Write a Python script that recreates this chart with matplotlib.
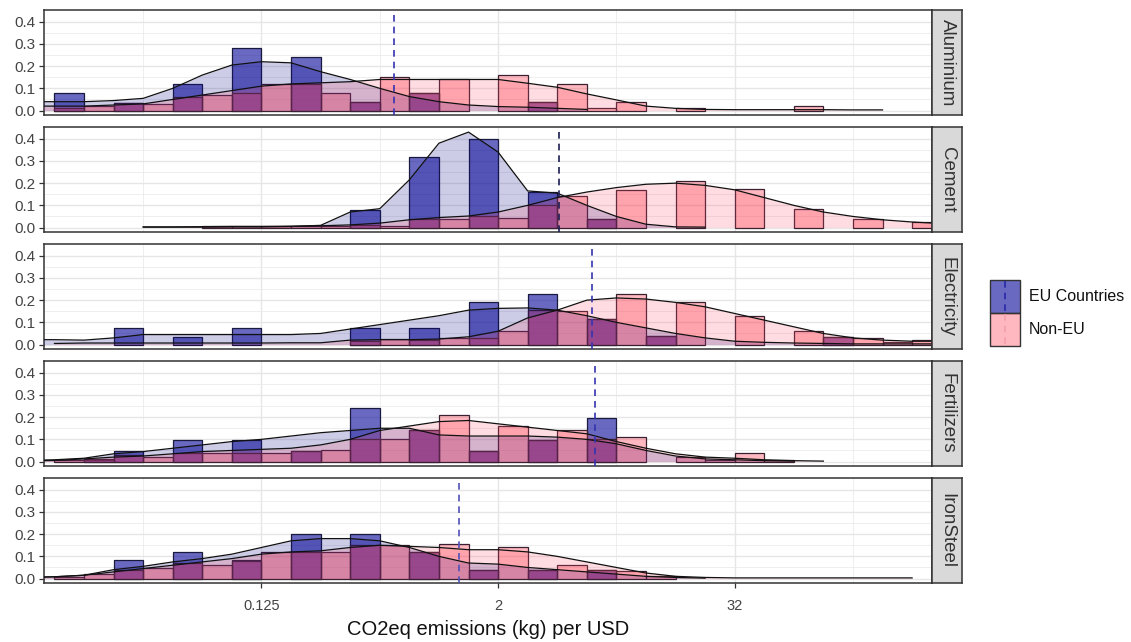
import numpy as np
import matplotlib
matplotlib.use("Agg")
import matplotlib.pyplot as plt
from matplotlib.patches import Rectangle
from matplotlib.ticker import NullFormatter

plt.rcParams['font.family'] = ['Liberation Sans', 'DejaVu Sans']

# --- data (x in log2 units: bins are 0.5 wide, left edges below) ---
sectors = ["Aluminium", "Cement", "Electricity", "Fertilizers", "IronSteel"]
bin_left = np.arange(-6.5, 8.5, 0.5)          # 30 bins
dens_grid = np.arange(-7.0, 9.0, 0.5)         # 32 points for the density curves
nan = np.nan

eu_bars = {
    "Aluminium":   [0.08, 0, 0.035, 0, 0.12, 0, 0.28, 0, 0.24, 0, 0.04, 0, 0.08, 0, 0,
                    0, 0.04, 0, 0, 0, 0, 0, 0, 0, 0, 0, 0, 0, 0, 0],
    "Cement":      [0, 0, 0, 0, 0, 0, 0, 0, 0, 0, 0.08, 0, 0.32, 0, 0.40,
                    0, 0.16, 0, 0.04, 0, 0, 0, 0, 0, 0, 0, 0, 0, 0, 0],
    "Electricity": [0, 0, 0.075, 0, 0.033, 0, 0.075, 0, 0, 0, 0.075, 0, 0.075, 0, 0.19,
                    0, 0.23, 0, 0.115, 0, 0.037, 0, 0, 0, 0, 0, 0.035, 0, 0, 0],
    "Fertilizers": [0, 0.005, 0.048, 0, 0.096, 0, 0.095, 0, 0.048, 0, 0.24, 0, 0.14, 0, 0.048,
                    0, 0.096, 0, 0.195, 0, 0, 0, 0, 0, 0, 0, 0, 0, 0, 0],
    "IronSteel":   [0, 0, 0.082, 0, 0.12, 0, 0.082, 0, 0.20, 0, 0.20, 0, 0.12, 0, 0.04,
                    0, 0.04, 0, 0.04, 0, 0, 0, 0, 0, 0, 0, 0, 0, 0, 0],
}
noneu_bars = {
    "Aluminium":   [0.01, 0.02, 0.035, 0.03, 0.06, 0.07, 0.08, 0.12, 0.12, 0.08, 0.04, 0.15, 0.08, 0.14, 0,
                    0.16, 0.04, 0.12, 0.01, 0.04, 0, 0.013, 0, 0, 0, 0.02, 0, 0, 0, 0],
    "Cement":      [0, 0, 0, 0, 0, 0.005, 0.005, 0.005, 0.005, 0.005, 0.01, 0.008, 0.04, 0.04, 0.05,
                    0.045, 0.10, 0.14, 0.04, 0.167, 0, 0.21, 0, 0.175, 0, 0.085, 0, 0.037, 0, 0.025],
    "Electricity": [0, 0, 0, 0, 0, 0, 0, 0, 0, 0, 0.015, 0.025, 0.02, 0.03, 0.03,
                    0.06, 0.155, 0.15, 0.115, 0.23, 0.037, 0.19, 0, 0.13, 0, 0.06, 0.035, 0.03, 0.01, 0.02],
    "Fertilizers": [0.005, 0.01, 0.03, 0.02, 0.04, 0.04, 0.04, 0.04, 0.048, 0.05, 0.10, 0.10, 0.14, 0.21, 0.048,
                    0.16, 0.096, 0.14, 0.10, 0.11, 0, 0.022, 0.008, 0.04, 0.005, 0, 0, 0, 0, 0],
    "IronSteel":   [0.005, 0.02, 0.04, 0.048, 0.07, 0.06, 0.08, 0.12, 0.12, 0.12, 0.15, 0.153, 0.12, 0.155, 0.04,
                    0.14, 0.04, 0.06, 0.04, 0.035, 0.01, 0, 0, 0, 0, 0, 0, 0, 0, 0],
}
eu_density = {
    "Aluminium":   [0.04, 0.04, 0.04, 0.045, 0.055, 0.10, 0.16, 0.205, 0.22, 0.215, 0.175, 0.14, 0.10, 0.063, 0.04,
                    0.025, 0.018, 0.015, 0.01, 0.005, nan, nan, nan, nan, nan, nan, nan, nan, nan, nan, nan, nan],
    "Cement":      [nan, nan, nan, nan, 0.002, 0.002, 0.002, 0.003, 0.003, 0.005, 0.01, 0.07, 0.085, 0.215, 0.38,
                    0.43, 0.34, 0.165, 0.155, 0.10, 0.05, 0.015, 0.003, 0.002, nan, nan, nan, nan, nan, nan, nan, nan],
    "Electricity": [0.022, 0.022, 0.02, 0.03, 0.045, 0.045, 0.045, 0.045, 0.045, 0.045, 0.05, 0.07, 0.09, 0.11, 0.13,
                    0.155, 0.163, 0.165, 0.155, 0.13, 0.10, 0.075, 0.05, 0.03, 0.015, 0.01, 0.007, 0.005, 0.003, 0.003, 0.003, 0.003],
    "Fertilizers": [0.005, 0.008, 0.015, 0.035, 0.045, 0.06, 0.075, 0.09, 0.10, 0.115, 0.13, 0.14, 0.15, 0.15, 0.12,
                    0.115, 0.115, 0.115, 0.11, 0.10, 0.08, 0.05, 0.025, 0.012, 0.008, 0.004, 0.002, nan, nan, nan, nan, nan],
    "IronSteel":   [0.005, 0.008, 0.015, 0.04, 0.055, 0.075, 0.09, 0.11, 0.14, 0.17, 0.18, 0.18, 0.17, 0.14, 0.10,
                    0.07, 0.065, 0.05, 0.04, 0.03, 0.02, 0.01, 0.005, 0.002, nan, nan, nan, nan, nan, nan, nan, nan],
}
noneu_density = {
    "Aluminium":   [0.02, 0.02, 0.02, 0.025, 0.03, 0.05, 0.07, 0.09, 0.11, 0.12, 0.125, 0.13, 0.14, 0.14, 0.14,
                    0.14, 0.14, 0.123, 0.105, 0.075, 0.048, 0.02, 0.01, 0.005, 0.004, 0.004, 0.004, 0.004, 0.003, 0.003, nan, nan],
    "Cement":      [nan, nan, nan, nan, 0.003, 0.003, 0.004, 0.005, 0.005, 0.006, 0.008, 0.012, 0.02, 0.035, 0.045,
                    0.052, 0.07, 0.10, 0.135, 0.16, 0.18, 0.195, 0.20, 0.19, 0.17, 0.135, 0.10, 0.07, 0.05, 0.035, 0.025, 0.018],
    "Electricity": [nan, 0.005, 0.007, 0.007, 0.007, 0.007, 0.007, 0.007, 0.007, 0.008, 0.008, 0.02, 0.022, 0.022, 0.025,
                    0.035, 0.06, 0.12, 0.155, 0.20, 0.21, 0.205, 0.19, 0.17, 0.14, 0.11, 0.08, 0.05, 0.03, 0.02, 0.015, 0.015],
    "Fertilizers": [0.003, 0.005, 0.012, 0.02, 0.025, 0.035, 0.045, 0.05, 0.055, 0.06, 0.075, 0.10, 0.14, 0.16, 0.18,
                    0.185, 0.17, 0.155, 0.14, 0.125, 0.09, 0.06, 0.035, 0.02, 0.015, 0.008, 0.004, 0.002, nan, nan, nan, nan],
    "IronSteel":   [0.005, 0.008, 0.015, 0.03, 0.045, 0.06, 0.075, 0.09, 0.11, 0.12, 0.125, 0.14, 0.15, 0.145, 0.14,
                    0.13, 0.13, 0.12, 0.10, 0.075, 0.05, 0.025, 0.01, 0.005, 0.003, 0.003, 0.003, 0.003, 0.003, 0.003, 0.003, nan],
}
# dashed mean lines, kg per USD
mean_line = {"Aluminium": 0.59, "Cement": 4.1, "Electricity": 6.0, "Fertilizers": 6.2, "IronSteel": 1.27}
mean_color = {"Aluminium": "#3434b0", "Cement": "#1c1c55", "Electricity": "#3434b0",
              "Fertilizers": "#3434b0", "IronSteel": "#5050b8"}

EU_BAR = "#14149f"
NON_BAR = "#ff3c50"
EU_FILL = "#00008b"
NON_FILL = "#ff5069"
EU_A, NON_A = 0.64, 0.36

W, H = 1131, 642
fig = plt.figure(figsize=(W / 100, H / 100), dpi=100)


def box(left, top, w, h):
    return [left / W, 1 - (top + h) / H, w / W, h / H]


panel_tops = [10, 127, 244, 361, 478]
for i, sec in enumerate(sectors):
    ax = fig.add_axes(box(44, panel_tops[i], 888, 105))
    ax.set_xscale("log", base=2)
    lo = 2.0 ** bin_left
    wid = 2.0 ** (bin_left + 0.5) - lo

    eu = np.array(eu_bars[sec])
    ne = np.array(noneu_bars[sec])
    m = eu > 0
    ax.bar(lo[m], eu[m], width=wid[m], align="edge", color=EU_BAR, alpha=EU_A,
           edgecolor="none", zorder=2)
    ax.bar(lo[m], eu[m], width=wid[m], align="edge", fill=False,
           edgecolor="#1a1a40", linewidth=0.9, zorder=2.1)
    m = ne > 0
    ax.bar(lo[m], ne[m], width=wid[m], align="edge", color=NON_BAR, alpha=NON_A,
           edgecolor="none", zorder=3)
    ax.bar(lo[m], ne[m], width=wid[m], align="edge", fill=False,
           edgecolor="#3a2030", linewidth=0.9, zorder=3.1)

    xd = 2.0 ** dens_grid
    for dens, col in [(eu_density[sec], EU_FILL), (noneu_density[sec], NON_FILL)]:
        y = np.array(dens, dtype=float)
        ok = ~np.isnan(y)
        ax.fill_between(xd, 0, np.nan_to_num(y), where=ok, color=col, alpha=0.2,
                        linewidth=0, zorder=4)
        ax.plot(xd, y, color="#111111", linewidth=0.9, zorder=5)

    ax.axvline(mean_line[sec], color=mean_color[sec], linestyle=(0, (4, 3)),
               linewidth=1.2, zorder=6)

    ax.set_xlim(2 ** -6.677, 2 ** 8.336)
    ax.set_ylim(-0.02, 0.453)
    ax.set_xticks([0.125, 2, 32])
    ax.set_xticks([2 ** -5, 0.5, 8, 128], minor=True)
    ax.xaxis.set_minor_formatter(NullFormatter())
    ax.set_yticks([0, 0.1, 0.2, 0.3, 0.4])
    ax.set_yticks([0.05, 0.15, 0.25, 0.35], minor=True)
    ax.set_yticklabels(["0.0", "0.1", "0.2", "0.3", "0.4"])
    ax.grid(which="major", color="#e6e6e6", linewidth=1.0, zorder=0)
    ax.grid(which="minor", color="#ebebeb", linewidth=0.6, zorder=0)
    ax.set_axisbelow(True)
    ax.tick_params(axis="y", which="major", length=3.5, width=0.9, color="#333333",
                   labelsize=11, labelcolor="#444444", pad=2.5)
    ax.tick_params(axis="x", which="major", length=3.5, width=0.9, color="#333333",
                   labelsize=10.5, labelcolor="#444444", pad=8)
    ax.tick_params(axis="both", which="minor", length=0)
    for s in ax.spines.values():
        s.set_color("#333333")
        s.set_linewidth(1.1)
    if i < 4:
        ax.tick_params(axis="x", which="major", length=0, labelbottom=False)
    else:
        ax.set_xticklabels(["0.125", "2", "32"])
        ax.set_xlabel("CO2eq emissions (kg) per USD", fontsize=14.5, color="#111111", labelpad=5)

    # facet strip
    sax = fig.add_axes(box(932, panel_tops[i], 30, 105))
    sax.set_facecolor("#d9d9d9")
    sax.set_xticks([])
    sax.set_yticks([])
    for s in sax.spines.values():
        s.set_color("#333333")
        s.set_linewidth(1.1)
    sax.text(0.5, 0.5, sec, rotation=-90, ha="center", va="center", fontsize=13.5,
             color="#333333", transform=sax.transAxes)

# legend
lax = fig.add_axes(box(985, 276, 150, 76))
lax.set_xlim(0, 150)
lax.set_ylim(76, 0)
lax.axis("off")
keys = [("EU Countries", EU_BAR, EU_A, "#2828a8", 4), ("Non-EU", NON_BAR, NON_A, "#f4a0aa", 37)]
for label, col, a, lc, top in keys:
    lax.add_patch(Rectangle((5, top), 30, 33, facecolor=col, alpha=a, edgecolor="none"))
    lax.add_patch(Rectangle((5, top), 30, 33, fill=False, edgecolor="#333333", linewidth=1.0))
    lax.plot([20, 20], [top + 1, top + 32], color=lc, linestyle=(0, (4, 3)), linewidth=1.2)
    lax.text(44, top + 17, label, va="center", ha="left", fontsize=11.5, color="#111111")

fig.savefig("out.png", dpi=100)
